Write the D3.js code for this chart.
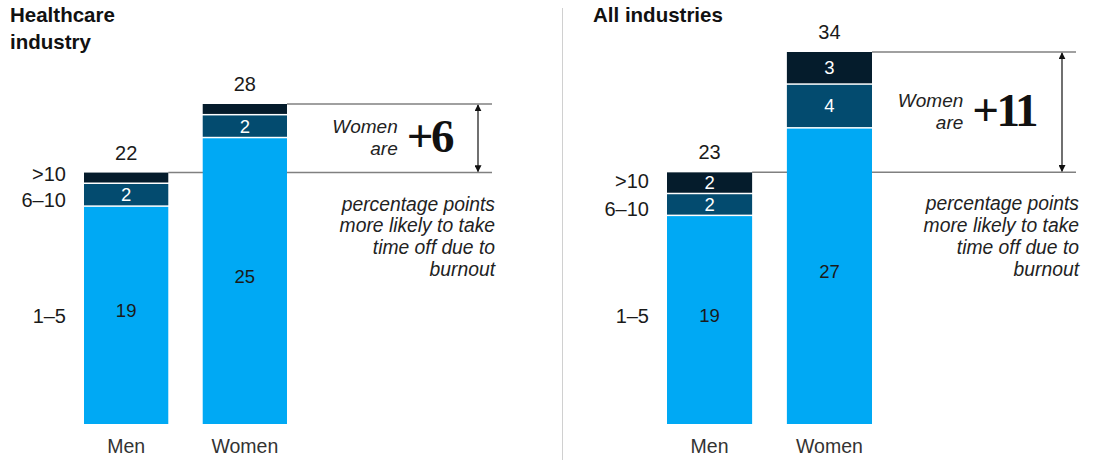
<!DOCTYPE html>
<html>
<head>
<meta charset="utf-8">
<script src="https://cdn.jsdelivr.net/npm/d3@7/dist/d3.min.js"></script>
<style>
  html, body { margin: 0; padding: 0; background: #fff; }
  svg text { font-family: "Liberation Sans", Arial, Helvetica, sans-serif; }
</style>
</head>
<body>
<svg id="chart" width="1095" height="460"></svg>
<script>
// ---- data ----
const categories = ["Men", "Women"];
const bands = ["1–5", "6–10", ">10"];
const panelTitles = [["Healthcare", "industry"], ["All industries"]];
const healthcareLow  = [19, 25];
const healthcareMid  = [2, 2];
const healthcareHigh = [1, 1];
const allLow  = [19, 27];
const allMid  = [2, 4];
const allHigh = [2, 3];
const noteLines = ["percentage points", "more likely to take", "time off due to", "burnout"];

const colors = ["#00a9f4", "#034b6f", "#051c2c"];
const textColors = ["#1a1a1a", "#ffffff", "#ffffff"];

// ---- layout (per panel) ----
const panels = [
  { titles: panelTitles[0], series: [healthcareLow, healthcareMid, healthcareHigh],
    xRange: [84, 287], yRange: [424, 104], titleX: 10, lineEnd: 492, arrowX: 478, bandY: [323, 207, 181] },
  { titles: panelTitles[1], series: [allLow, allMid, allHigh],
    xRange: [667, 872], yRange: [424, 52], titleX: 593, lineEnd: 1076, arrowX: 1062, bandY: [323, 216, 188] }
];

const svg = d3.select("#chart");

svg.append("defs").append("marker")
  .attr("id", "arrow").attr("viewBox", "0 0 10 10")
  .attr("refX", 9).attr("refY", 5)
  .attr("markerWidth", 7).attr("markerHeight", 7)
  .attr("markerUnits", "userSpaceOnUse")
  .attr("orient", "auto-start-reverse")
  .append("path").attr("d", "M0,0 L10,5 L0,10 z").attr("fill", "#111");

// divider
svg.append("line").attr("x1", 562.5).attr("x2", 562.5).attr("y1", 8).attr("y2", 460)
  .attr("stroke", "#d0d0d0").attr("stroke-width", 1);

panels.forEach(p => {
  const g = svg.append("g");
  const totals = categories.map((c, i) => p.series.reduce((s, arr) => s + arr[i], 0));
  const maxTotal = d3.max(totals);

  const x = d3.scaleBand().domain(categories).range(p.xRange).paddingInner(0.29).paddingOuter(0);
  const y = d3.scaleLinear().domain([0, maxTotal]).range(p.yRange);

  // title
  p.titles.forEach((t, i) => {
    g.append("text").attr("x", p.titleX).attr("y", 22 + i * 27)
      .attr("font-size", 20.5).attr("font-weight", "bold").attr("fill", "#111").text(t);
  });

  const menT = totals[0], womenT = totals[1];
  // connector lines
  g.append("line").attr("x1", x("Men") + x.bandwidth()).attr("x2", p.lineEnd)
    .attr("y1", y(menT)).attr("y2", y(menT)).attr("stroke", "#808080").attr("stroke-width", 1.5);
  g.append("line").attr("x1", x("Women") + x.bandwidth()).attr("x2", p.lineEnd)
    .attr("y1", y(womenT)).attr("y2", y(womenT)).attr("stroke", "#808080").attr("stroke-width", 1.5);

  // stacked data
  const rows = categories.map((c, i) => {
    const o = { cat: c };
    bands.forEach((b, k) => o[b] = p.series[k][i]);
    return o;
  });
  const stacked = d3.stack().keys(bands)(rows);

  stacked.forEach((layer, k) => {
    layer.forEach(d => {
      const cat = d.data.cat;
      const top = y(d[1]), bot = y(d[0]);
      const gap = k > 0 ? 1.5 : 0;
      g.append("rect").attr("x", x(cat)).attr("width", x.bandwidth())
        .attr("y", top).attr("height", Math.max(0, bot - top - gap))
        .attr("fill", colors[k]);
      const v = d[1] - d[0];
      if (v >= 2) {
        g.append("text").attr("x", x(cat) + x.bandwidth() / 2)
          .attr("y", (top + bot - gap) / 2 + 6.5 - (k === 0 ? 5 : 0))
          .attr("text-anchor", "middle").attr("font-size", 18.5)
          .attr("fill", textColors[k]).text(v);
      }
    });
  });

  // totals
  totals.forEach((t, i) => {
    g.append("text").attr("x", x(categories[i]) + x.bandwidth() / 2).attr("y", y(t) - 13)
      .attr("text-anchor", "middle").attr("font-size", 20).attr("fill", "#1a1a1a").text(t);
  });

  // category labels
  categories.forEach(c => {
    g.append("text").attr("x", x(c) + x.bandwidth() / 2).attr("y", 453)
      .attr("text-anchor", "middle").attr("font-size", 19.5).attr("fill", "#333").text(c);
  });

  // band labels (left of men bar)
  bands.forEach((b, k) => {
    g.append("text").attr("x", x("Men") - 18).attr("y", p.bandY[k])
      .attr("text-anchor", "end").attr("font-size", 20).attr("fill", "#1a1a1a").text(b);
  });

  // arrow
  g.append("line").attr("x1", p.arrowX).attr("x2", p.arrowX)
    .attr("y1", y(womenT) + 1).attr("y2", y(menT) - 1)
    .attr("stroke", "#111").attr("stroke-width", 1.2)
    .attr("marker-start", "url(#arrow)").attr("marker-end", "url(#arrow)");

  // annotation
  const mid = (y(womenT) + y(menT)) / 2;
  const big = g.append("text").attr("x", p.arrowX - 26).attr("y", mid + 14)
    .attr("text-anchor", "end").attr("font-size", 47).attr("font-weight", "bold")
    .attr("letter-spacing", -2.5)
    .style("font-family", "'Liberation Serif', 'DejaVu Serif', serif")
    .attr("fill", "#111").text("+" + (womenT - menT));
  const bigW = big.node().getComputedTextLength();
  const wx = p.arrowX - 26 - bigW - 9;
  g.append("text").attr("x", wx).attr("y", mid - 5).attr("text-anchor", "end")
    .attr("font-size", 19).attr("font-style", "italic").attr("fill", "#222").text("Women");
  g.append("text").attr("x", wx).attr("y", mid + 17).attr("text-anchor", "end")
    .attr("font-size", 19).attr("font-style", "italic").attr("fill", "#222").text("are");

  noteLines.forEach((t, i) => {
    g.append("text").attr("x", p.lineEnd + 3).attr("y", y(menT) + 38 + i * 21.8)
      .attr("text-anchor", "end").attr("font-size", 19.3).attr("font-style", "italic")
      .attr("fill", "#222").text(t);
  });
});
</script>
</body>
</html>
